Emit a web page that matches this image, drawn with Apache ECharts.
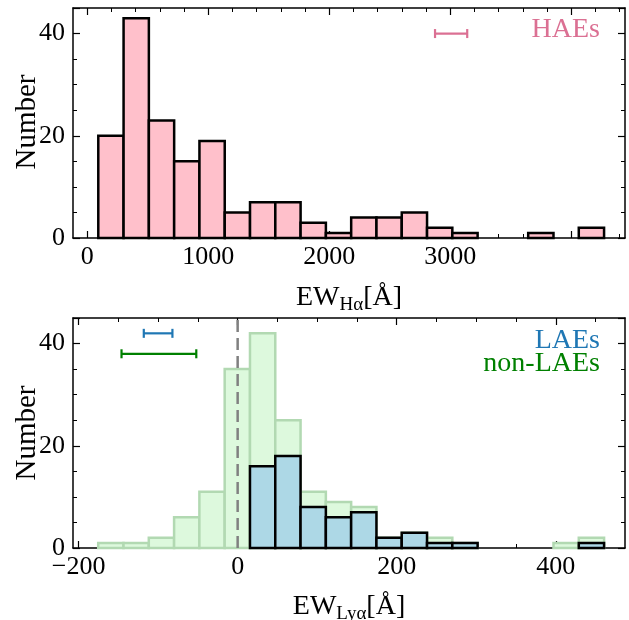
<!DOCTYPE html>
<html>
<head>
<meta charset="utf-8">
<script src="https://cdn.jsdelivr.net/npm/echarts@6/dist/echarts.min.js"></script>
<style>html,body{margin:0;padding:0;background:#fff}#c{width:629px;height:620px}</style>
</head>
<body>
<div id="c"></div>
<script>
// ---- Data ----
const haeBinEdges = [91, 300, 509, 718, 927, 1136, 1345, 1554, 1763, 1972, 2181, 2390, 2599, 2808, 3017, 3226, 3435, 3644, 3853, 4062, 4271];
const haeCounts = [20, 43, 23, 15, 19, 5, 7, 7, 3, 1, 4, 4, 5, 2, 1, 0, 0, 1, 0, 2];

const lyaBinEdges = [-175.3, -143.5, -111.7, -79.9, -48.1, -16.3, 15.5, 47.3, 79.1, 110.9, 142.7, 174.5, 206.3, 238.1, 269.9, 301.7, 333.5, 365.3, 397.1, 428.9, 460.7];
const nonLaeCounts = [1, 1, 2, 6, 11, 35, 42, 25, 11, 9, 8, 2, 3, 2, 1, 0, 0, 0, 1, 2];
const laeCounts = [0, 0, 0, 0, 0, 0, 16, 18, 8, 6, 7, 2, 3, 1, 1, 0, 0, 0, 0, 1];

// error bars: [center, halfWidth, y]
const haeErr = [3007, 133, 40];
const laeErr = [-100, 18, 42];
const nonLaeErr = [-99, 47, 38];

const zeroLineX = 0;

// axis ranges, ticks and tick labels
const haeXRange = [-118, 4444];
const haeMajorTicks = [0, 4000, 1000];   // [first, last, step]
const haeMinorTicks = [0, 4400, 200];
const haeXLabels = [0, 1000, 2000, 3000];
const lyaXRange = [-207, 487];
const lyaMajorTicks = [-200, 400, 200];
const lyaMinorTicks = [-200, 450, 50];
const lyaXLabels = [-200, 0, 200, 400];
const yRange = [0, 45];
const yMajorStep = 20;
const yMinorStep = 5;
const yLabels = [0, 20, 40];

// ---- Styles / layout ----
const FONT = "'Liberation Serif', 'Times New Roman', serif";
const PINK = '#ffc0cb', PINK_TXT = '#db7093';
const LBLUE = '#add8e6', BLUE_TXT = '#1f77b4';
const GREEN_FILL = '#ddf9dd', GREEN_EDGE = '#b2d9b2', GREEN_TXT = '#008000';
const BOX_LEFT = 73, BOX_WIDTH = 552, BOX_H = 230;
const TOP1 = 8, TOP2 = 318;

function binData(edges, counts) {
  return counts.map((c, i) => [edges[i], edges[i + 1], c]);
}

function barRender(fill, stroke, lw) {
  return function (params, api) {
    const c = api.value(2);
    if (!c) return null;
    const p0 = api.coord([api.value(0), c]);
    const p1 = api.coord([api.value(1), 0]);
    return {
      type: 'rect',
      shape: { x: p0[0], y: p0[1], width: p1[0] - p0[0], height: p1[1] - p0[1] },
      style: { fill: fill, stroke: stroke, lineWidth: lw }
    };
  };
}

function errRender(color) {
  return function (params, api) {
    const c = api.value(0), h = api.value(1), y = api.value(2);
    const a = api.coord([c - h, y]);
    const b = api.coord([c + h, y]);
    const cap = 4.5;
    const st = { stroke: color, lineWidth: 2.2 };
    return {
      type: 'group',
      children: [
        { type: 'line', shape: { x1: a[0], y1: a[1], x2: b[0], y2: b[1] }, style: st },
        { type: 'line', shape: { x1: a[0], y1: a[1] - cap, x2: a[0], y2: a[1] + cap }, style: st },
        { type: 'line', shape: { x1: b[0], y1: b[1] - cap, x2: b[0], y2: b[1] + cap }, style: st }
      ]
    };
  };
}

const fmtMinus = v => String(v).replace('-', '\u2212');

// sub-grid aligned with box so that its own min is a tick
function subGrid(top, range, ticks) {
  const span = range[1] - range[0];
  return {
    left: BOX_LEFT + (ticks[0] - range[0]) / span * BOX_WIDTH,
    width: (ticks[1] - ticks[0]) / span * BOX_WIDTH,
    top: top, height: BOX_H
  };
}

const blackLine = { color: '#000', width: 1.5 };
const majorTick = { show: true, inside: true, length: 7, lineStyle: { color: '#000', width: 1.2 } };
const minorTickS = { show: true, inside: true, length: 4, lineStyle: { color: '#000', width: 1 } };

function boxX(gridIndex, range, position) {
  return {
    type: 'value', gridIndex, min: range[0], max: range[1], position,
    axisLine: { show: true, onZero: false, lineStyle: blackLine },
    axisTick: { show: false }, axisLabel: { show: false }, splitLine: { show: false }
  };
}
function tickX(gridIndex, ticks, position, isMajor, labels) {
  return {
    type: 'value', gridIndex, min: ticks[0], max: ticks[1], interval: ticks[2], position,
    axisLine: { show: false, onZero: false },
    axisTick: isMajor ? majorTick : minorTickS,
    axisLabel: labels ? {
      show: true, margin: 6, fontSize: 26, fontFamily: FONT, color: '#000',
      formatter: v => (labels.indexOf(v) >= 0 ? fmtMinus(v) : '')
    } : { show: false },
    splitLine: { show: false }
  };
}
function yAx(gridIndex, position, step, isMajor, labels) {
  return {
    type: 'value', gridIndex, min: yRange[0], max: yRange[1], interval: step, position,
    axisLine: { show: isMajor, onZero: false, lineStyle: blackLine },
    axisTick: isMajor ? majorTick : minorTickS,
    axisLabel: labels ? {
      show: true, margin: 8, fontSize: 26, fontFamily: FONT, color: '#000',
      formatter: v => (labels.indexOf(v) >= 0 ? String(v) : '')
    } : { show: false },
    splitLine: { show: false }
  };
}
function hiddenY(gridIndex) {
  return { type: 'value', gridIndex, min: 0, max: 1, show: false };
}

const chart = echarts.init(document.getElementById('c'), null, { renderer: 'canvas' });

const richLabel = (sub) => ({
  type: 'text',
  style: {
    text: '{a|EW}{b|' + sub + '}{a|[Å]}',
    rich: {
      a: { fontSize: 28, fontFamily: FONT, lineHeight: 34, fill: '#000', color: '#000' },
      b: { fontSize: 19, fontFamily: FONT, lineHeight: 22, verticalAlign: 'bottom', fill: '#000', color: '#000' }
    },
    align: 'center', verticalAlign: 'middle'
  }
});

const option = {
  animation: false,
  backgroundColor: '#fff',
  grid: [
    { left: BOX_LEFT, top: TOP1, width: BOX_WIDTH, height: BOX_H },
    subGrid(TOP1, haeXRange, haeMajorTicks),
    subGrid(TOP1, haeXRange, haeMinorTicks),
    { left: BOX_LEFT, top: TOP2, width: BOX_WIDTH, height: BOX_H },
    subGrid(TOP2, lyaXRange, lyaMajorTicks),
    subGrid(TOP2, lyaXRange, lyaMinorTicks)
  ],
  xAxis: [
    boxX(0, haeXRange, 'bottom'),                          // 0
    boxX(0, haeXRange, 'top'),                             // 1
    tickX(1, haeMajorTicks, 'bottom', true, haeXLabels),   // 2
    tickX(1, haeMajorTicks, 'top', true, null),            // 3
    tickX(2, haeMinorTicks, 'bottom', false, null),        // 4
    tickX(2, haeMinorTicks, 'top', false, null),           // 5
    boxX(3, lyaXRange, 'bottom'),                          // 6
    boxX(3, lyaXRange, 'top'),                             // 7
    tickX(4, lyaMajorTicks, 'bottom', true, lyaXLabels),   // 8
    tickX(4, lyaMajorTicks, 'top', true, null),            // 9
    tickX(5, lyaMinorTicks, 'bottom', false, null),        // 10
    tickX(5, lyaMinorTicks, 'top', false, null)            // 11
  ],
  yAxis: [
    yAx(0, 'left', yMajorStep, true, yLabels),  // 0
    yAx(0, 'left', yMinorStep, false, null),    // 1
    yAx(0, 'right', yMajorStep, true, null),    // 2
    yAx(0, 'right', yMinorStep, false, null),   // 3
    hiddenY(1),                                 // 4
    hiddenY(2),                                 // 5
    yAx(3, 'left', yMajorStep, true, yLabels),  // 6
    yAx(3, 'left', yMinorStep, false, null),    // 7
    yAx(3, 'right', yMajorStep, true, null),    // 8
    yAx(3, 'right', yMinorStep, false, null),   // 9
    hiddenY(4),                                 // 10
    hiddenY(5)                                  // 11
  ],
  series: [
    {
      type: 'custom', xAxisIndex: 0, yAxisIndex: 0, z: 2,
      renderItem: barRender(PINK, '#000', 2.5),
      data: binData(haeBinEdges, haeCounts)
    },
    {
      type: 'custom', xAxisIndex: 0, yAxisIndex: 0, z: 5,
      renderItem: errRender(PINK_TXT),
      data: [haeErr]
    },
    {
      type: 'custom', xAxisIndex: 6, yAxisIndex: 6, z: 2,
      renderItem: barRender(GREEN_FILL, GREEN_EDGE, 2.5),
      data: binData(lyaBinEdges, nonLaeCounts)
    },
    {
      type: 'line', xAxisIndex: 6, yAxisIndex: 6, z: 3,
      symbol: 'none', silent: true,
      lineStyle: { color: '#808080', width: 2.5, type: [12, 6] },
      data: [[zeroLineX, yRange[0]], [zeroLineX, yRange[1]]]
    },
    {
      type: 'custom', xAxisIndex: 6, yAxisIndex: 6, z: 4,
      renderItem: barRender(LBLUE, '#000', 2.5),
      data: binData(lyaBinEdges, laeCounts)
    },
    {
      type: 'custom', xAxisIndex: 6, yAxisIndex: 6, z: 5,
      renderItem: errRender(BLUE_TXT),
      data: [laeErr]
    },
    {
      type: 'custom', xAxisIndex: 6, yAxisIndex: 6, z: 5,
      renderItem: errRender(GREEN_TXT),
      data: [nonLaeErr]
    }
  ],
  graphic: [
    { type: 'text', x: 600, y: 30, style: { text: 'HAEs', fontSize: 28, fontFamily: FONT, fill: PINK_TXT, align: 'right', verticalAlign: 'middle' } },
    { type: 'text', x: 600, y: 341, style: { text: 'LAEs', fontSize: 28, fontFamily: FONT, fill: BLUE_TXT, align: 'right', verticalAlign: 'middle' } },
    { type: 'text', x: 600, y: 364, style: { text: 'non-LAEs', fontSize: 28, fontFamily: FONT, fill: GREEN_TXT, align: 'right', verticalAlign: 'middle' } },
    { type: 'text', x: 27, y: 122, rotation: Math.PI / 2, style: { text: 'Number', fontSize: 29, fontFamily: FONT, fill: '#000', align: 'center', verticalAlign: 'middle' } },
    { type: 'text', x: 27, y: 433, rotation: Math.PI / 2, style: { text: 'Number', fontSize: 29, fontFamily: FONT, fill: '#000', align: 'center', verticalAlign: 'middle' } },
    Object.assign(richLabel('Hα'), { x: 349, y: 298 }),
    Object.assign(richLabel('Lyα'), { x: 349, y: 607 })
  ]
};
chart.setOption(option);
</script>
</body>
</html>
